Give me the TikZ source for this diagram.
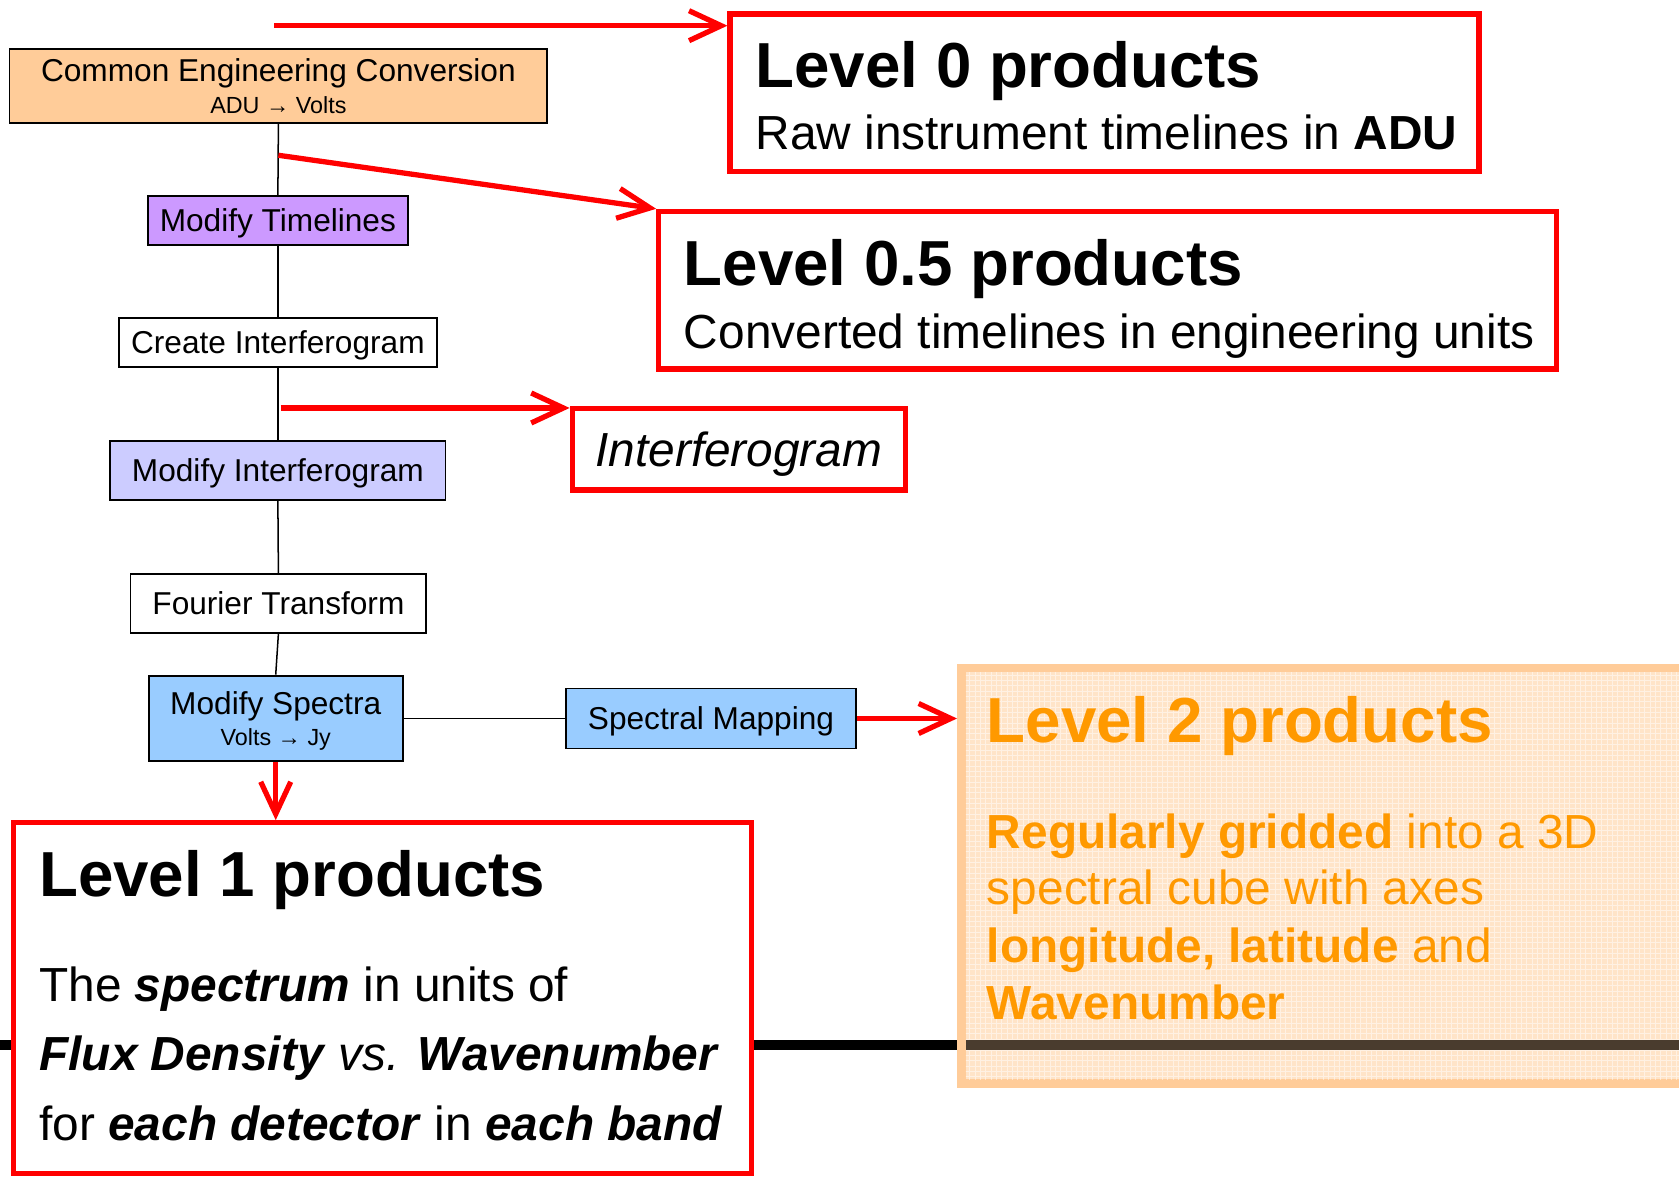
\documentclass[tikz,border=0pt]{standalone}
\usepackage{fontspec}
\setmainfont{Liberation Sans}
\usetikzlibrary{arrows.meta,calc}
\definecolor{peach}{HTML}{FFCC99}
\definecolor{lilac}{HTML}{CC99FF}
\definecolor{periw}{HTML}{CCCCFF}
\definecolor{skyb}{HTML}{99CCFF}
\definecolor{redc}{HTML}{FF0000}
\definecolor{orangec}{HTML}{FF9900}
\definecolor{peachfill}{HTML}{FFE4C8}
\definecolor{darkline}{HTML}{4A3C2E}
\newcommand\lvltitle{\fontsize{16.9}{20}\selectfont\bfseries}
\newcommand\lvlbody{\fontsize{12.7}{15}\selectfont}
\newcommand\procfont{\fontsize{8.4}{10}\selectfont}
\newcommand\procsub{\fontsize{6.2}{7.5}\selectfont}
\begin{document}
\begin{tikzpicture}[x=0.01cm, y=-0.01cm,
  proc/.style={draw=black, line width=0.5pt, inner sep=0pt, align=center, font=\procfont},
  oneline/.style={text height=6pt, text depth=0pt},
  twoline/.style={text depth=-1.5pt},
  prodbox/.style={draw=redc, line width=1.4pt, fill=white, inner sep=0pt},
  flow/.style={draw=black, line width=0.4pt},
  redarrow/.style={draw=redc, line width=1.4pt, -{Straight Barb[length=3mm,width=2.8mm]}},
  txt/.style={anchor=base west, inner sep=0pt},
]
\useasboundingbox[fill=white] (0,0) rectangle (1568,1100);

% long black rule
\draw[black, line width=2.6pt] (0,976) -- (1568,976);

% process boxes
\node[proc, twoline, fill=peach, minimum width=5.02cm, minimum height=0.69cm] (CEC) at (260,80.5)
  {Common Engineering Conversion\\[-1.6pt]{\procsub ADU → Volts}};
\node[proc, oneline, fill=lilac, minimum width=2.43cm, minimum height=0.46cm] (MT) at (259.5,206) {Modify Timelines};
\node[proc, oneline, fill=white, minimum width=2.97cm, minimum height=0.46cm] (CI) at (259.5,320) {Create Interferogram};
\node[proc, oneline, fill=periw, minimum width=3.13cm, minimum height=0.55cm] (MI) at (259.5,439.5) {Modify Interferogram};
\node[proc, oneline, fill=white, minimum width=2.76cm, minimum height=0.55cm] (FT) at (260,563.5) {Fourier Transform};
\node[proc, twoline, fill=skyb, minimum width=2.37cm, minimum height=0.80cm] (MS) at (257.5,671)
  {Modify Spectra\\[-2pt]{\procsub Volts → Jy}};
\node[proc, oneline, fill=skyb, minimum width=2.70cm, minimum height=0.56cm] (SM) at (664,671) {Spectral Mapping};

% flow connectors
\draw[flow] (CEC.south) -- (MT.north);
\draw[flow] (MT.south) -- (CI.north);
\draw[flow] (CI.south) -- (MI.north);
\draw[flow] (MI.south) -- (FT.north);
\draw[flow] (FT.south) -- (MS.north);
\draw[flow] (MS.east) -- (SM.west);

% product boxes
\node[prodbox, minimum width=6.99cm, minimum height=1.47cm] (L0) at (1031.5,86.5) {};
\node[prodbox, minimum width=8.38cm, minimum height=1.47cm] (L05) at (1034.5,271) {};
\node[prodbox, minimum width=3.11cm, minimum height=0.76cm] (IG) at (690,419.5) {};
\node[prodbox, minimum width=6.89cm, minimum height=3.27cm] (L1) at (357,932) {};
\node[draw=peach, line width=2.3pt, fill=peachfill, inner sep=0pt,
      minimum width=7.02cm, minimum height=3.88cm] (L2) at (1249,818) {};
\begin{scope}
  \clip (902,628) rectangle (1568,1008);
  \draw[white, line width=0.25pt, opacity=0.5, step=0.05cm] (900,626) grid (1570,1010);
\end{scope}
\draw[darkline, line width=2.6pt] (902,976) -- (1568,976);

% texts
\node[txt, font=\lvltitle] (L0t) at (705,82) {Level 0 products};
\node[txt, font=\lvlbody] (L0b) at (705,140) {Raw instrument timelines in \textbf{ADU}};
\node[txt, font=\lvltitle] (L05t) at (638,267) {Level 0.5 products};
\node[txt, font=\lvlbody] (L05b) at (638,325) {Converted timelines in engineering units};
\node[inner sep=0pt, font=\lvlbody\itshape, text height=9pt, text depth=0pt] (IGt) at (IG) {Interferogram};
\node[txt, font=\lvltitle] (L1t) at (36,837) {Level 1 products};
\node[txt, font=\lvlbody] (L1a) at (36,935) {The \textbf{\textit{spectrum}} in units of};
\node[txt, font=\lvlbody] (L1b) at (36,1000) {\textbf{\textit{Flux Density}} \textit{vs.} \textbf{\textit{Wavenumber}}};
\node[txt, font=\lvlbody] (L1c) at (36,1065) {for \textbf{\textit{each detector}} in \textbf{\textit{each band}}};
\node[txt, font=\lvltitle, text=orangec] (L2t) at (921,693) {Level 2 products};
\node[txt, font=\lvlbody, text=orangec] (L2a) at (921,792) {\textbf{Regularly gridded} into a 3D};
\node[txt, font=\lvlbody, text=orangec] (L2b) at (921,845) {spectral cube with axes};
\node[txt, font=\lvlbody, text=orangec] (L2c) at (921,899) {\textbf{longitude, latitude} and};
\node[txt, font=\lvlbody, text=orangec] (L2d) at (921,952) {\textbf{Wavenumber}};

% red arrows
\coordinate (a0) at (256,24);
\coordinate (a1) at (260,145);
\coordinate (a2) at (262,381);
\draw[redarrow] (a0) -- (L0.west |- a0);
\draw[redarrow] (a1) -- (L05.north west);
\draw[redarrow] (a2) -- (IG.west |- a2);
\draw[redarrow] (SM.east) -- (L2.west |- SM.east);
\draw[redarrow] (MS.south) -- (MS.south |- L1.north);
\end{tikzpicture}
\end{document}
